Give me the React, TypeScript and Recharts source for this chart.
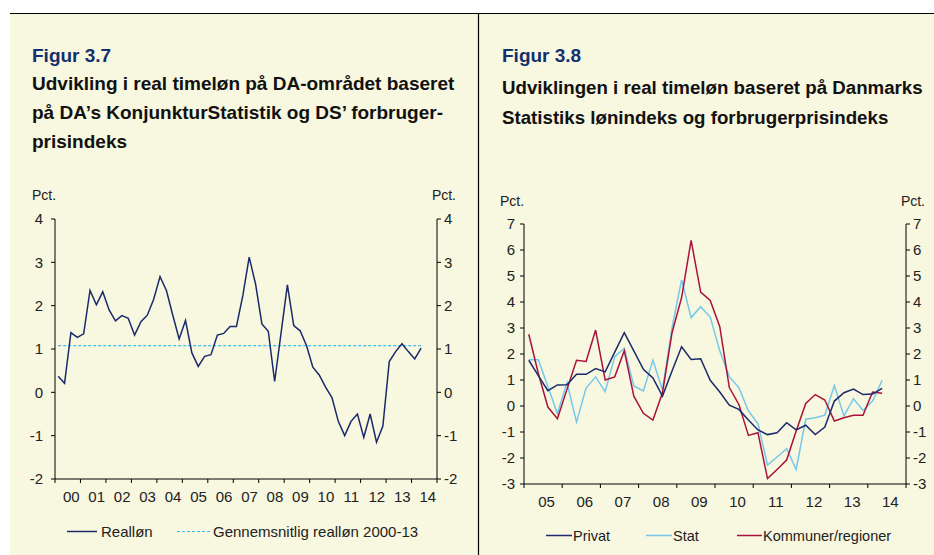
import { LineChart, Line, XAxis, YAxis } from 'recharts';

// Figur 3.7 - realløn, kvartaler 2000K1 - 2014K2
const yearsLeft = ['00', '01', '02', '03', '04', '05', '06', '07', '08', '09', '10', '11', '12', '13', '14'];
const realLon = [
    0.37, 0.21, 1.38, 1.27, 1.35, 2.35, 2.02, 2.32, 1.9, 1.65,
    1.77, 1.71, 1.32, 1.63, 1.78, 2.15, 2.67, 2.35, 1.78, 1.23,
    1.66, 0.91, 0.6, 0.83, 0.87, 1.32, 1.36, 1.52, 1.52, 2.23,
    3.12, 2.5, 1.58, 1.41, 0.25, 1.36, 2.48, 1.54, 1.42, 1.08,
    0.58, 0.4, 0.12, -0.12, -0.67, -1.0, -0.67, -0.5, -1.04, -0.5,
    -1.15, -0.78, 0.71, 0.94, 1.12, 0.94, 0.77, 1.02,
];
const avgRealLon = 1.08;
const leftTicksY = [-2, -1, 0, 1, 2, 3, 4];

// Figur 3.8 - kvartaler 2005K1 - 2014K2
const yearsRight = ['05', '06', '07', '08', '09', '10', '11', '12', '13', '14'];
const privat = [
    1.76, 1.17, 0.59, 0.81, 0.82, 1.22, 1.22, 1.44, 1.31, 2.07,
    2.82, 2.12, 1.41, 1.08, 0.38, 1.35, 2.28, 1.79, 1.82, 0.99,
    0.54, 0.03, -0.13, -0.54, -0.92, -1.1, -1.03, -0.64, -0.92, -0.74,
    -1.1, -0.81, 0.19, 0.51, 0.65, 0.44, 0.46, 0.68,
];
const stat = [
    1.78, 1.78, 0.75, -0.29, 0.9, -0.62, 0.69, 1.12, 0.55, 1.9,
    2.22, 0.77, 0.58, 1.76, 0.62, 3.0, 4.85, 3.4, 3.82, 3.42,
    2.12, 1.13, 0.71, -0.19, -0.68, -2.27, -1.96, -1.64, -2.44, -0.51,
    -0.45, -0.35, 0.79, -0.38, 0.28, -0.17, 0.19, 0.99,
];
const kommuner = [
    2.76, 1.25, -0.04, -0.49, 0.64, 1.76, 1.71, 2.92, 1.0, 1.12,
    2.13, 0.38, -0.28, -0.54, 0.51, 2.82, 4.17, 6.37, 4.38, 4.06,
    3.05, 0.71, 0.06, -1.13, -1.03, -2.79, -2.44, -2.08, -0.96, 0.1,
    0.44, 0.23, -0.58, -0.45, -0.36, -0.36, 0.54, 0.49,
];
const rightTicksY = [-3, -2, -1, 0, 1, 2, 3, 4, 5, 6, 7];

const FONT = '"Liberation Sans", Arial, sans-serif';
const BG = '#f8f7e0';
const NAVY = '#1b2a6b';
const LIGHT = '#74c9ea';
const RED = '#a8123c';
const AVG = '#3fbdf0';

const leftData = realLon.map((v, i) => ({ x: i + 0.5, v, avg: avgRealLon }));
const rightData = privat.map((v, i) => ({ x: i + 0.5, privat: v, stat: stat[i], kommuner: kommuner[i] }));

const leftXTicks = Array.from({ length: yearsLeft.length + 1 }, (_, i) => i * 4);
const rightXTicks = Array.from({ length: yearsRight.length + 1 }, (_, i) => i * 4);

// plot widths (px) -> half a year, labels sit in the middle of each year
const leftHalfYear = 382 / yearsLeft.length / 2;
const rightHalfYear = 381 / yearsRight.length / 2;

function makeYearTick(labels: string[], half: number) {
    return (props: any) => {
        const idx = Math.round(props.payload.value / 4);
        if (idx >= labels.length) return <g />;
        return (
            <text x={props.x + half + 3.5} y={props.y} dy="0.71em" textAnchor="middle"
                fontSize={15} fontFamily={FONT} fill="#222">
                {labels[idx]}
            </text>
        );
    };
}

const axisProps = {
    stroke: '#000',
    tick: { fontSize: 15, fontFamily: FONT, fill: '#222' },
    tickSize: 4,
    interval: 0 as const,
};

export default function App() {
    return (
        <div style={{ position: 'absolute', left: 0, top: 0, width: 934, height: 555, background: '#fff', fontFamily: FONT }}>
            <svg width={934} height={555} style={{ position: 'absolute', left: 0, top: 0 }}>
                <rect x={10} y={13} width={924} height={542} fill={BG} />
                <line x1={10} y1={13.5} x2={934} y2={13.5} stroke="#000" strokeWidth={1.2} />
                <line x1={478.5} y1={13} x2={478.5} y2={555} stroke="#000" strokeWidth={1.2} />

                <text x={32} y={62} fontSize={19} fontWeight="bold" fill="#13306f">Figur 3.7</text>
                <text x={32} y={90} fontSize={19} fontWeight="bold" fill="#111">Udvikling i real timeløn på DA-området baseret</text>
                <text x={32} y={119} fontSize={19} fontWeight="bold" fill="#111">på DA’s KonjunkturStatistik og DS’ forbruger-</text>
                <text x={32} y={148} fontSize={19} fontWeight="bold" fill="#111">prisindeks</text>

                <text x={502} y={62} fontSize={19} fontWeight="bold" fill="#13306f">Figur 3.8</text>
                <text x={502} y={93.5} fontSize={18.7} fontWeight="bold" fill="#111">Udviklingen i real timeløn baseret på Danmarks</text>
                <text x={502} y={123.5} fontSize={18.7} fontWeight="bold" fill="#111">Statistiks lønindeks og forbrugerprisindeks</text>

                <text x={32} y={200} fontSize={14} fill="#222">Pct.</text>
                <text x={456} y={200} fontSize={14} fill="#222" textAnchor="end">Pct.</text>
                <text x={500} y={205.5} fontSize={14} fill="#222">Pct.</text>
                <text x={925} y={205.5} fontSize={14} fill="#222" textAnchor="end">Pct.</text>

                <line x1={67} y1={531.5} x2={97} y2={531.5} stroke={NAVY} strokeWidth={1.5} />
                <text x={101} y={537} fontSize={15} fill="#222">Realløn</text>
                <line x1={177} y1={531.5} x2={210} y2={531.5} stroke={AVG} strokeWidth={1} strokeDasharray="3 2" />
                <text x={213} y={537} fontSize={15} fill="#222">Gennemsnitlig realløn 2000-13</text>

                <line x1={546} y1={535.5} x2={572} y2={535.5} stroke={NAVY} strokeWidth={1.5} />
                <text x={573} y={541} fontSize={14.5} fill="#222">Privat</text>
                <line x1={646} y1={535.5} x2={672} y2={535.5} stroke={LIGHT} strokeWidth={1.5} />
                <text x={673} y={541} fontSize={14.5} fill="#222">Stat</text>
                <line x1={737} y1={535.5} x2={762} y2={535.5} stroke={RED} strokeWidth={1.5} />
                <text x={763} y={541} fontSize={14.5} fill="#222">Kommuner/regioner</text>
            </svg>

            <div style={{ position: 'absolute', left: 0, top: 0 }}>
                <LineChart width={478} height={555} data={leftData}
                    margin={{ top: 219, right: 1, bottom: 46, left: 15 }}>
                    <XAxis dataKey="x" type="number" domain={[0, 60]} ticks={leftXTicks}
                        {...axisProps} height={30} tickMargin={8}
                        tick={makeYearTick(yearsLeft, leftHalfYear)} />
                    <YAxis yAxisId="l" domain={[-2, 4]} ticks={leftTicksY} {...axisProps}
                        width={40} tickMargin={8} />
                    <YAxis yAxisId="r" orientation="right" domain={[-2, 4]} ticks={leftTicksY} {...axisProps}
                        width={40} tickMargin={3} />
                    <Line yAxisId="r" type="linear" dataKey="avg" stroke={AVG} strokeWidth={1.2}
                        strokeDasharray="3 2" dot={false} isAnimationActive={false} />
                    <Line yAxisId="l" type="linear" dataKey="v" stroke={NAVY} strokeWidth={1.5}
                        dot={false} isAnimationActive={false} />
                </LineChart>
            </div>

            <div style={{ position: 'absolute', left: 478, top: 0 }}>
                <LineChart width={456} height={555} data={rightData}
                    margin={{ top: 224, right: 0, bottom: 41, left: 6 }}>
                    <XAxis dataKey="x" type="number" domain={[0, 40]} ticks={rightXTicks}
                        {...axisProps} height={30} tickMargin={8}
                        tick={makeYearTick(yearsRight, rightHalfYear)} />
                    <YAxis yAxisId="l" domain={[-3, 7]} ticks={rightTicksY} {...axisProps}
                        width={40} tickMargin={5} />
                    <YAxis yAxisId="r" orientation="right" domain={[-3, 7]} ticks={rightTicksY} {...axisProps}
                        width={28} tickMargin={3} />
                    <Line yAxisId="l" type="linear" dataKey="stat" stroke={LIGHT} strokeWidth={1.5}
                        dot={false} isAnimationActive={false} />
                    <Line yAxisId="l" type="linear" dataKey="kommuner" stroke={RED} strokeWidth={1.5}
                        dot={false} isAnimationActive={false} />
                    <Line yAxisId="r" type="linear" dataKey="privat" stroke={NAVY} strokeWidth={1.5}
                        dot={false} isAnimationActive={false} />
                </LineChart>
            </div>
        </div>
    );
}
